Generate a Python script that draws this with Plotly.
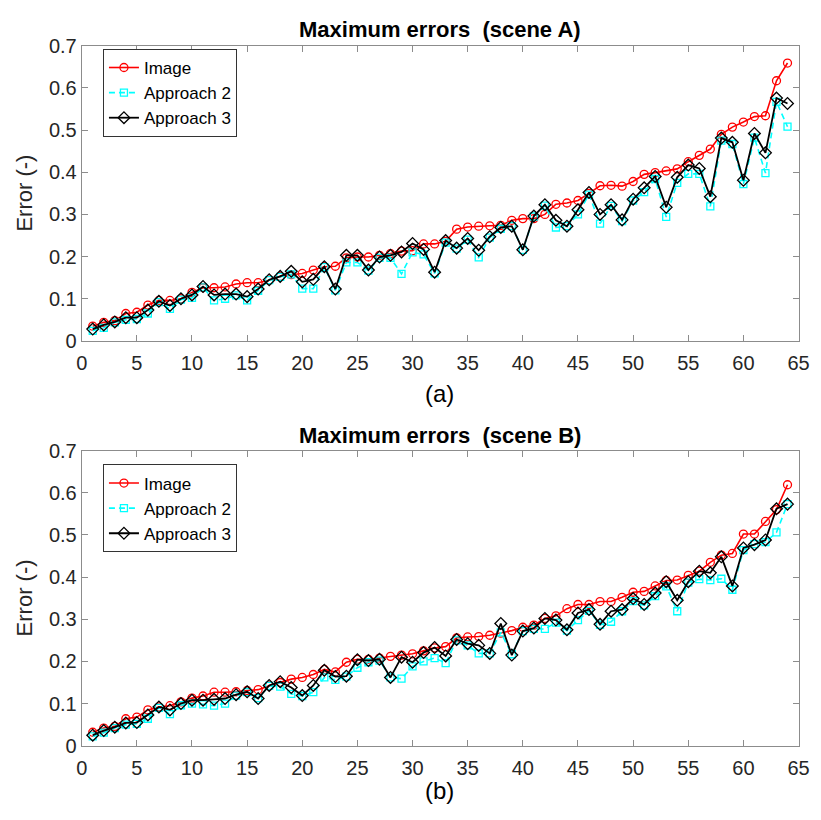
import plotly.graph_objects as go

idx = list(range(1, 65))

# Scene A
a_image = [0.035, 0.044, 0.048, 0.065, 0.068, 0.085, 0.096, 0.096, 0.100, 0.115,
           0.126, 0.126, 0.128, 0.135, 0.138, 0.138, 0.144, 0.153, 0.157, 0.160,
           0.168, 0.176, 0.177, 0.197, 0.199, 0.199, 0.203, 0.207, 0.213, 0.214,
           0.230, 0.230, 0.236, 0.265, 0.270, 0.272, 0.273, 0.274, 0.286, 0.290,
           0.290, 0.300, 0.324, 0.327, 0.333, 0.350, 0.368, 0.369, 0.367, 0.378,
           0.395, 0.399, 0.403, 0.408, 0.425, 0.440, 0.455, 0.490, 0.507, 0.519,
           0.532, 0.534, 0.617, 0.659]
a_app2 = [0.024, 0.031, 0.044, 0.050, 0.052, 0.065, 0.092, 0.076, 0.098, 0.102,
          0.127, 0.096, 0.100, 0.108, 0.096, 0.119, 0.144, 0.152, 0.158, 0.124,
          0.124, 0.175, 0.120, 0.186, 0.186, 0.167, 0.197, 0.197, 0.159, 0.210,
          0.205, 0.160, 0.233, 0.219, 0.240, 0.198, 0.245, 0.266, 0.272, 0.216,
          0.295, 0.321, 0.269, 0.272, 0.300, 0.347, 0.278, 0.320, 0.284, 0.333,
          0.353, 0.384, 0.294, 0.375, 0.396, 0.396, 0.319, 0.475, 0.467, 0.372,
          0.482, 0.398, 0.567, 0.508]
a_app3 = [0.028, 0.038, 0.045, 0.055, 0.055, 0.073, 0.094, 0.084, 0.100, 0.109,
          0.129, 0.109, 0.111, 0.111, 0.105, 0.123, 0.145, 0.153, 0.165, 0.140,
          0.146, 0.176, 0.123, 0.203, 0.203, 0.168, 0.199, 0.203, 0.211, 0.231,
          0.217, 0.163, 0.238, 0.220, 0.243, 0.215, 0.247, 0.269, 0.272, 0.216,
          0.296, 0.323, 0.286, 0.272, 0.311, 0.352, 0.300, 0.323, 0.287, 0.336,
          0.363, 0.390, 0.317, 0.388, 0.417, 0.409, 0.342, 0.481, 0.471, 0.381,
          0.492, 0.446, 0.576, 0.563]

# Scene B
b_image = [0.032, 0.042, 0.046, 0.064, 0.068, 0.085, 0.092, 0.095, 0.104, 0.113,
           0.118, 0.127, 0.127, 0.128, 0.131, 0.133, 0.142, 0.150, 0.158, 0.162,
           0.169, 0.181, 0.175, 0.198, 0.205, 0.205, 0.208, 0.212, 0.215, 0.218,
           0.225, 0.232, 0.235, 0.256, 0.258, 0.259, 0.262, 0.267, 0.273, 0.281,
           0.286, 0.302, 0.308, 0.325, 0.335, 0.335, 0.342, 0.342, 0.352, 0.364,
           0.366, 0.379, 0.392, 0.393, 0.404, 0.414, 0.435, 0.452, 0.456, 0.502,
           0.502, 0.532, 0.560, 0.619]
b_app2 = [0.022, 0.031, 0.042, 0.050, 0.052, 0.064, 0.090, 0.075, 0.096, 0.100,
          0.098, 0.095, 0.100, 0.119, 0.127, 0.113, 0.142, 0.140, 0.123, 0.118,
          0.127, 0.162, 0.156, 0.164, 0.185, 0.198, 0.202, 0.162, 0.159, 0.188,
          0.200, 0.208, 0.196, 0.250, 0.238, 0.219, 0.219, 0.269, 0.217, 0.272,
          0.277, 0.277, 0.292, 0.273, 0.298, 0.320, 0.287, 0.294, 0.319, 0.343,
          0.333, 0.355, 0.378, 0.319, 0.387, 0.395, 0.393, 0.396, 0.370, 0.464,
          0.478, 0.483, 0.506, 0.573]
b_app3 = [0.025, 0.036, 0.044, 0.054, 0.055, 0.073, 0.092, 0.085, 0.100, 0.108,
          0.108, 0.110, 0.112, 0.121, 0.128, 0.112, 0.143, 0.152, 0.138, 0.119,
          0.143, 0.179, 0.164, 0.165, 0.204, 0.202, 0.205, 0.162, 0.210, 0.198,
          0.221, 0.233, 0.213, 0.252, 0.242, 0.238, 0.219, 0.290, 0.215, 0.272,
          0.279, 0.302, 0.298, 0.275, 0.315, 0.323, 0.288, 0.319, 0.323, 0.349,
          0.335, 0.362, 0.389, 0.345, 0.389, 0.414, 0.410, 0.448, 0.379, 0.469,
          0.477, 0.488, 0.562, 0.573]

series_names = ["Image", "Approach 2", "Approach 3"]
titles = ["Maximum errors\u00a0\u00a0(scene A)", "Maximum errors\u00a0\u00a0(scene B)"]
sublabels = ["(a)", "(b)"]
x_ticks = list(range(0, 70, 5))
y_ticks = [0, 0.1, 0.2, 0.3, 0.4, 0.5, 0.6, 0.7]

FONT = "Liberation Sans, Arial, Helvetica, sans-serif"
TXT = "#262626"

fig = go.Figure()

styles = [
    dict(line=dict(color="#ff0000", width=1.6),
         marker=dict(symbol="circle-open", size=8, color="#ff0000", line=dict(width=1.3))),
    dict(line=dict(color="#00ffff", width=1.6, dash="6px,4px"),
         marker=dict(symbol="square-open", size=7, color="#00ffff", line=dict(width=1.3))),
    dict(line=dict(color="#000000", width=1.8),
         marker=dict(symbol="diamond-open", size=9, color="#000000", line=dict(width=1.3))),
]

for k, (data, xa, ya, lg) in enumerate([
        ((a_image, a_app2, a_app3), "x", "y", "legend"),
        ((b_image, b_app2, b_app3), "x2", "y2", "legend2")]):
    for name, vals, st in zip(series_names, data, styles):
        fig.add_trace(go.Scatter(x=idx, y=vals, name=name, mode="lines+markers",
                                 xaxis=xa, yaxis=ya, legend=lg, **st))

xdom = [77.3 / 821, 809.3 / 821]
axis_common = dict(showline=True, linecolor="#8c8c8c", linewidth=1, mirror="ticks",
                   ticks="inside", ticklen=6, tickcolor="#8c8c8c", showgrid=False,
                   zeroline=False, tickfont=dict(family=FONT, size=20, color=TXT))

fig.update_layout(
    width=821, height=820, margin=dict(l=0, r=0, t=0, b=0),
    paper_bgcolor="white", plot_bgcolor="white",
    font=dict(family=FONT, color=TXT),
    xaxis=dict(domain=xdom, range=[0, 65], tickvals=x_ticks, anchor="y",
               ticklabelstandoff=4, **axis_common),
    yaxis=dict(domain=[1 - 339 / 820, 1 - 35.7 / 820], range=[0, 0.7], tickvals=y_ticks,
               ticktext=[("%g" % v) for v in y_ticks], anchor="x", **axis_common),
    xaxis2=dict(domain=xdom, range=[0, 65], tickvals=x_ticks, anchor="y2",
                ticklabelstandoff=4, **axis_common),
    yaxis2=dict(domain=[1 - 755 / 820, 1 - 451.7 / 820], range=[0, 0.7], tickvals=y_ticks,
                ticktext=[("%g" % v) for v in y_ticks], anchor="x2", **axis_common),
    legend=dict(x=99 / 821, y=1 - 39 / 820, xanchor="left", yanchor="top",
                bgcolor="white", bordercolor="#333333", borderwidth=1,
                font=dict(family=FONT, size=17, color="#000000"), tracegroupgap=0),
    legend2=dict(x=99 / 821, y=1 - 466 / 820, xanchor="left", yanchor="top",
                 bgcolor="white", bordercolor="#333333", borderwidth=1,
                 font=dict(family=FONT, size=17, color="#000000"), tracegroupgap=0),
)

ann = []
for title, yc in zip(titles, [19, 436]):
    ann.append(dict(text="<b>%s</b>" % title, x=443 / 821, y=1 - yc / 820, xref="paper",
                    yref="paper", showarrow=False, xanchor="center", yanchor="middle",
                    font=dict(family=FONT, size=22, color="#000000")))
for lab, yc in zip(sublabels, [393, 801]):
    ann.append(dict(text=lab, x=443 / 821, y=1 - yc / 820, xref="paper", yref="paper",
                    showarrow=False, xanchor="center", yanchor="middle",
                    font=dict(family=FONT, size=24, color="#000000")))
for yc in [187, 603]:
    ann.append(dict(text="Error (-)", x=19 / 821, y=1 - yc / 820, xref="paper", yref="paper",
                    showarrow=False, xanchor="center", yanchor="middle", textangle=-90,
                    font=dict(family=FONT, size=22, color=TXT)))
fig.update_layout(annotations=ann)

fig.write_html("out.html")
